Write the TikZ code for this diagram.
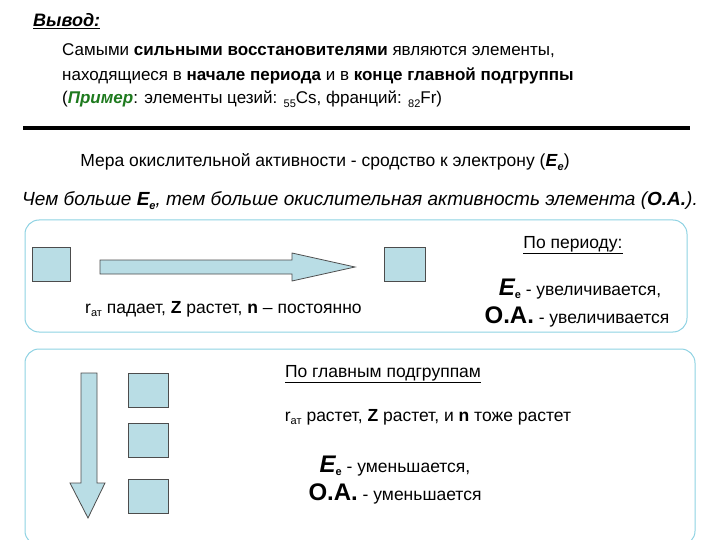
\documentclass[tikz,border=0pt]{standalone}
\usepackage{fontspec}
\setmainfont{Liberation Sans}
\newcommand{\lowsub}[1]{\raisebox{-0.35ex}{\fontsize{11}{12}\selectfont #1}}
\begin{document}
\begin{tikzpicture}[x=1pt,y=-1pt,
  sq/.style={draw=black!70,fill=sqfill,line width=0.8pt},
  panel/.style={draw=panelc,line width=1pt,rounded corners=14pt},
  txt/.style={inner sep=0pt,font=\fontsize{17.5}{20}\selectfont}]
\definecolor{sqfill}{HTML}{B9DDE5}
\definecolor{panelc}{HTML}{8ED2E2}
\definecolor{grn}{HTML}{1E7A1E}
\useasboundingbox (0,0) rectangle (720,540);
\node[txt,anchor=base west,font=\fontsize{18}{20}\selectfont\bfseries\itshape] (t) at (33,27) {\underline{Вывод:}};
\node[txt,anchor=base west,font=\fontsize{17}{20}\selectfont] (p1) at (62,56) {Самыми \textbf{сильными восстановителями} являются элементы,};
\node[txt,anchor=base west,font=\fontsize{17}{20}\selectfont] (p2) at (62,81) {находящиеся в \textbf{начале периода} и в \textbf{конце главной подгруппы}};
\node[txt,anchor=base west,font=\fontsize{17}{20}\selectfont] (p3) at (62,104) {(\textcolor{grn}{\textbf{\textit{Пример}}}: элементы цезий: \lowsub{55}Cs, франций: \lowsub{82}Fr)};
\draw[line width=4pt] (23,128) -- (690,128);
\node[txt,anchor=base] (m) at (325,167) {Мера окислительной активности - сродство к электрону (\textbf{\textit{E}}\lowsub{\textbf{\textit{e}}})};
\node[txt,anchor=base,font=\fontsize{19}{22}\selectfont\itshape] (c) at (360,206) {Чем больше \textbf{E}\lowsub{\textbf{e}}, тем больше окислительная активность элемента (\textbf{О.А.}).};
\draw[panel] (25,220) rectangle (687,332);
\node[sq,minimum width=38pt,minimum height=34pt,inner sep=0pt] (s1) at (51,264.5) {};
\node[sq,minimum width=41pt,minimum height=34pt,inner sep=0pt] (s2) at (404.5,264.5) {};
\draw[sq,line join=miter] (100,260) -- (292,260) -- (292,253) -- (355,267) -- (292,281) -- (292,274) -- (100,274) -- cycle;
\node[txt,anchor=base] (pp) at (573,248) {\underline{По периоду:}};
\node[txt,anchor=base west] (r1) at (85,313) {r\lowsub{ат} падает, \textbf{Z} растет, \textbf{n} – постоянно};
\node[txt,anchor=base] (e1) at (580,295) {{\fontsize{24}{26}\selectfont\bfseries\itshape E}\lowsub{\textbf{e}} - увеличивается,};
\node[txt,anchor=base] (o1) at (577,323) {{\fontsize{24}{26}\selectfont\bfseries О.А.} - увеличивается};
\draw[panel] (25,349) rectangle (695,545);
\draw[sq,line join=miter] (81,373) -- (97,373) -- (97,483) -- (105,483) -- (88,518) -- (70,483) -- (81,483) -- cycle;
\node[sq,minimum width=40pt,minimum height=34pt,inner sep=0pt] (g1) at (148,390) {};
\node[sq,minimum width=40pt,minimum height=34pt,inner sep=0pt] (g2) at (148,440) {};
\node[sq,minimum width=40pt,minimum height=34pt,inner sep=0pt] (g3) at (148,496) {};
\node[txt,anchor=base] (pg) at (383,377) {\underline{По главным подгруппам}};
\node[txt,anchor=base] (r2) at (428,421) {r\lowsub{ат} растет, \textbf{Z} растет, и \textbf{n} тоже растет};
\node[txt,anchor=base] (e2) at (395,472) {{\fontsize{24}{26}\selectfont\bfseries\itshape E}\lowsub{\textbf{e}} - уменьшается,};
\node[txt,anchor=base] (o2) at (395,500) {{\fontsize{24}{26}\selectfont\bfseries О.А.} - уменьшается};
\end{tikzpicture}
\end{document}
